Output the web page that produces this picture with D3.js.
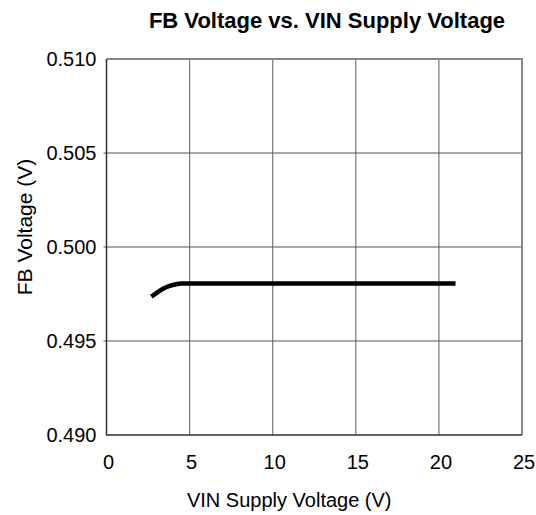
<!DOCTYPE html>
<head>
    <title>FB Voltage vs. VIN Supply Voltage</title>
    <meta charset="utf-8">
    <style>
        body { margin: 0; background: #fff; }
        text { font-family: "Liberation Sans", Arial, sans-serif; fill: #000; }
    </style>
</head>

<body>
<div id="chart"></div>

<script src="https://d3js.org/d3.v7.min.js"></script>

<script>

// Data
var vin = [2.7, 3.0, 3.4, 3.8, 4.2, 4.5, 5, 6, 7, 8, 9, 10, 11, 12, 13, 14, 15, 16, 17, 18, 19, 20, 21];
var fb  = [0.49736, 0.49755, 0.49778, 0.49793, 0.49802, 0.49806, 0.49806, 0.49806, 0.49806, 0.49806,
           0.49806, 0.49806, 0.49806, 0.49806, 0.49806, 0.49806, 0.49806, 0.49806, 0.49806, 0.49806,
           0.49806, 0.49806, 0.49806];
var xTicks = [0, 5, 10, 15, 20, 25];
var yTicks = [0.490, 0.495, 0.500, 0.505, 0.510];

var width = 536, height = 515;
var margin = {top: 59, right: 14, bottom: 80, left: 106.5};

var svg = d3.select("#chart").append("svg")
    .attr("width", width)
    .attr("height", height);

var x = d3.scaleLinear().domain([0, 25]).range([margin.left, width - margin.right]);
var y = d3.scaleLinear().domain([0.490, 0.510]).range([height - margin.bottom, margin.top]);

// grid
svg.append("g").selectAll("line")
    .data(xTicks.slice(1, -1))
    .enter().append("line")
    .attr("x1", function(d) { return x(d); })
    .attr("x2", function(d) { return x(d); })
    .attr("y1", y(0.510))
    .attr("y2", y(0.490))
    .attr("stroke", "#777")
    .attr("stroke-width", 1.2);

svg.append("g").selectAll("line")
    .data(yTicks.slice(1, -1))
    .enter().append("line")
    .attr("x1", x(0) - 3)
    .attr("x2", x(25))
    .attr("y1", function(d) { return y(d); })
    .attr("y2", function(d) { return y(d); })
    .attr("stroke", "#555")
    .attr("stroke-width", 1);

// frame: top and right grey, left and bottom dark
svg.append("path")
    .attr("d", "M" + x(0) + "," + y(0.510) + "H" + x(25) + "V" + y(0.490))
    .attr("fill", "none")
    .attr("stroke", "#888")
    .attr("stroke-width", 2);

svg.append("path")
    .attr("d", "M" + x(0) + "," + y(0.510) + "V" + y(0.490) + "H" + x(25))
    .attr("fill", "none")
    .attr("stroke", "#333")
    .attr("stroke-width", 1.5);

// tick labels
svg.append("g").selectAll("text")
    .data(xTicks)
    .enter().append("text")
    .attr("x", function(d) { return x(d) + 2; })
    .attr("y", y(0.490) + 34)
    .attr("text-anchor", "middle")
    .style("font-size", "20px")
    .text(function(d) { return d; });

svg.append("g").selectAll("text")
    .data(yTicks)
    .enter().append("text")
    .attr("x", x(0) - 10)
    .attr("y", function(d) { return y(d) + 7; })
    .attr("text-anchor", "end")
    .style("font-size", "20px")
    .text(function(d) { return d3.format(".3f")(d); });

// curve
var line = d3.line()
    .x(function(d, i) { return x(vin[i]); })
    .y(function(d) { return y(d); })
    .curve(d3.curveMonotoneX);

svg.append("path")
    .datum(fb)
    .attr("d", line)
    .attr("fill", "none")
    .attr("stroke", "#000")
    .attr("stroke-width", 4.5);

// titles
svg.append("text")
    .attr("x", 327)
    .attr("y", 28)
    .attr("text-anchor", "middle")
    .style("font-size", "22px")
    .style("font-weight", "bold")
    .text("FB Voltage vs. VIN Supply Voltage");

svg.append("text")
    .attr("x", (x(0) + x(25)) / 2 - 25)
    .attr("y", 507)
    .attr("text-anchor", "middle")
    .style("font-size", "20px")
    .text("VIN Supply Voltage (V)");

svg.append("text")
    .attr("transform", "translate(32,227) rotate(-90)")
    .attr("text-anchor", "middle")
    .style("font-size", "21px")
    .text("FB Voltage (V)");

</script>

</body>
</html>
